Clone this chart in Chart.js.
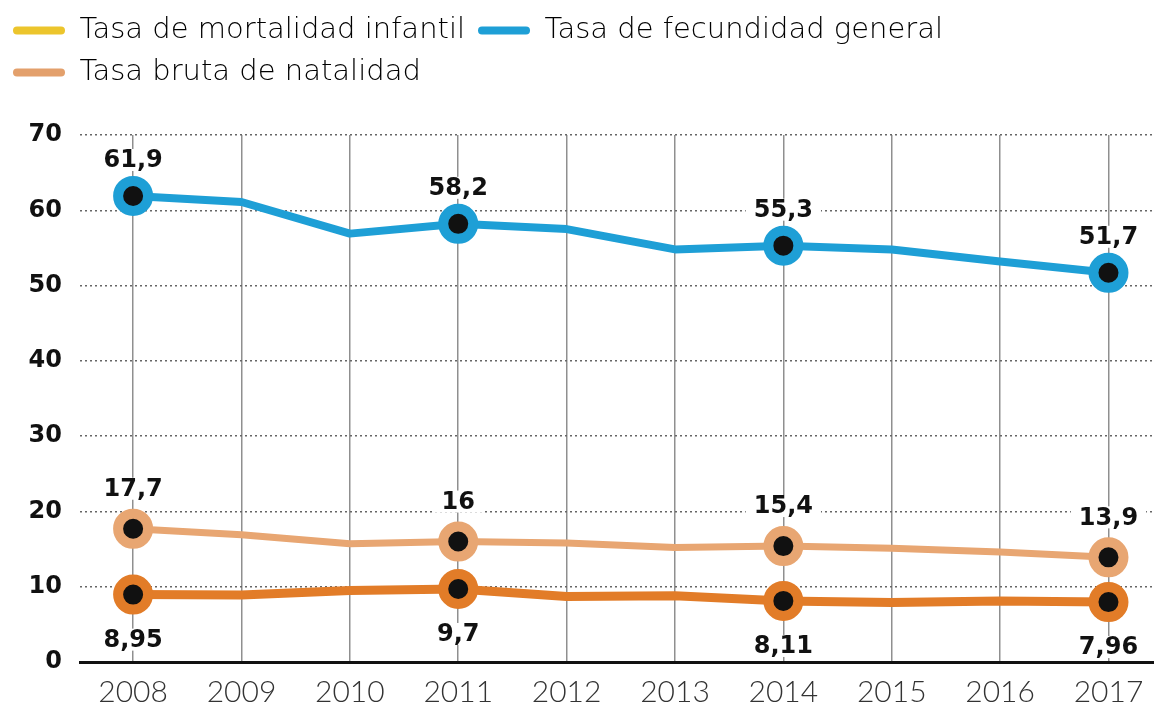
<!DOCTYPE html>
<html>
<head>
<meta charset="utf-8">
<script src="https://cdn.jsdelivr.net/npm/chart.js@4"></script>
<style>
html,body{margin:0;padding:0;background:#fff;}
#wrap{width:1154px;height:704px;position:relative;}
</style>
</head>
<body>
<div id="wrap"><canvas id="c" width="1154" height="704"></canvas></div>
<script>
const years = [2008, 2009, 2010, 2011, 2012, 2013, 2014, 2015, 2016, 2017];
const mortalidadInfantil = [8.95, 8.9, 9.5, 9.7, 8.7, 8.8, 8.11, 7.9, 8.1, 7.96];
const fecundidadGeneral = [61.9, 61.1, 56.9, 58.2, 57.5, 54.8, 55.3, 54.8, 53.2, 51.7];
const natalidadBruta = [17.7, 16.9, 15.7, 16, 15.8, 15.2, 15.4, 15.1, 14.6, 13.9];
const labeledYears = [2008, 2011, 2014, 2017];
const yTicks = [0, 10, 20, 30, 40, 50, 60, 70];
const seriesNames = ['Tasa de mortalidad infantil', 'Tasa de fecundidad general', 'Tasa bruta de natalidad'];

const legendColors = ['#ecc52c', '#1e9fd6', '#e3a06c'];
const lineColors = ['#e27c28', '#1e9fd6', '#e8a672'];

function pts(arr){ return years.map((y,i)=>({x:y, y:arr[i]})); }
function radii(){ return years.map(y => labeledYears.includes(y) ? 15 : 0); }
function fmt(v){ return String(v).replace('.', ','); }

const labelPlugin = {
  id: 'valueLabels',
  afterDatasetsDraw(chart){
    const ctx = chart.ctx;
    ctx.save();
    ctx.font = 'bold 24px "DejaVu Sans"';
    ctx.textAlign = 'center';
    ctx.textBaseline = 'middle';
    chart.data.datasets.forEach((ds, di) => {
      const meta = chart.getDatasetMeta(di);
      meta.data.forEach((el, i) => {
        const p = ds.data[i];
        if (!labeledYears.includes(p.x)) return;
        const txt = fmt(p.y);
        const x = el.x, y = el.y + ds.labelOffset;
        const w = ctx.measureText(txt).width;
        ctx.fillStyle = '#fff';
        ctx.fillRect(x - w/2 - 8, y - 11, w + 16, 22);
        ctx.fillStyle = '#111';
        ctx.fillText(txt, x, y + 1);
      });
    });
    ctx.restore();
  }
};

const legendHeightPlugin = {
  id: 'legendHeight',
  afterInit(chart){
    const lg = chart.legend;
    if (!lg) return;
    const orig = lg.fit;
    lg.fit = function(){ orig.call(this); this.height = 132; };
  }
};

new Chart(document.getElementById('c'), {
  type: 'line',
  data: {
    datasets: [
      { label: seriesNames[0], data: pts(mortalidadInfantil), borderColor: lineColors[0], backgroundColor: lineColors[0],
        borderWidth: 9, pointRadius: radii(), pointBorderWidth: 10, pointBackgroundColor: '#111', pointBorderColor: lineColors[0],
        labelOffset: 45, legendColor: legendColors[0] },
      { label: seriesNames[1], data: pts(fecundidadGeneral), borderColor: lineColors[1], backgroundColor: lineColors[1],
        borderWidth: 8, pointRadius: radii(), pointBorderWidth: 10, pointBackgroundColor: '#111', pointBorderColor: lineColors[1],
        labelOffset: -36, legendColor: legendColors[1] },
      { label: seriesNames[2], data: pts(natalidadBruta), borderColor: lineColors[2], backgroundColor: lineColors[2],
        borderWidth: 7, pointRadius: radii(), pointBorderWidth: 10, pointBackgroundColor: '#111', pointBorderColor: lineColors[2],
        labelOffset: -40, legendColor: legendColors[2] }
    ]
  },
  options: {
    responsive: false,
    animation: false,
    events: [],
    layout: { autoPadding: false, padding: { left: 0, right: 0, top: 3, bottom: 0 } },
    elements: { line: { tension: 0, borderCapStyle: 'round', borderJoinStyle: 'round' } },
    plugins: {
      tooltip: { enabled: false },
      legend: {
        position: 'top',
        align: 'start',
        labels: {
          font: { family: 'DejaVu Sans', size: 29, weight: '200' },
          color: '#000',
          boxWidth: 52,
          boxHeight: 8,
          padding: 13,
          useBorderRadius: true,
          borderRadius: 4,
          generateLabels(chart){
            return chart.data.datasets.map((ds, i) => ({
              text: ds.label,
              fillStyle: ds.legendColor,
              strokeStyle: ds.legendColor,
              lineWidth: 0,
              borderRadius: 4,
              hidden: false,
              datasetIndex: i
            }));
          }
        }
      }
    },
    scales: {
      x: {
        type: 'linear',
        min: 2007.51,
        max: 2017.42,
        afterFit(s){ s.height = 42; s.paddingLeft = 0; s.paddingRight = 0; },
        afterBuildTicks(s){ s.ticks = years.map(v => ({value: v})); },
        ticks: {
          includeBounds: false,
          stepSize: 1,
          padding: 12,
          color: '#333',
          font: { family: 'Lato', size: 30, weight: '300' },
          callback: v => String(v),
          maxRotation: 0,
          autoSkip: false
        },
        grid: { color: '#8f8f8f', lineWidth: 1.5, drawTicks: false },
        border: { display: true, color: '#111', width: 3 }
      },
      y: {
        min: 0,
        max: 70,
        afterFit(s){ s.width = 80; },
        afterBuildTicks(s){ s.ticks = yTicks.map(v => ({value: v})); },
        ticks: {
          padding: 18,
          color: '#111',
          font: { family: 'DejaVu Sans', size: 24, weight: 'bold' },
          callback: v => String(v)
        },
        grid: { color: '#666', lineWidth: 1.5, drawTicks: false },
        border: { display: false, dash: [2, 3] }
      }
    }
  },
  plugins: [labelPlugin, legendHeightPlugin]
});
</script>
</body>
</html>
